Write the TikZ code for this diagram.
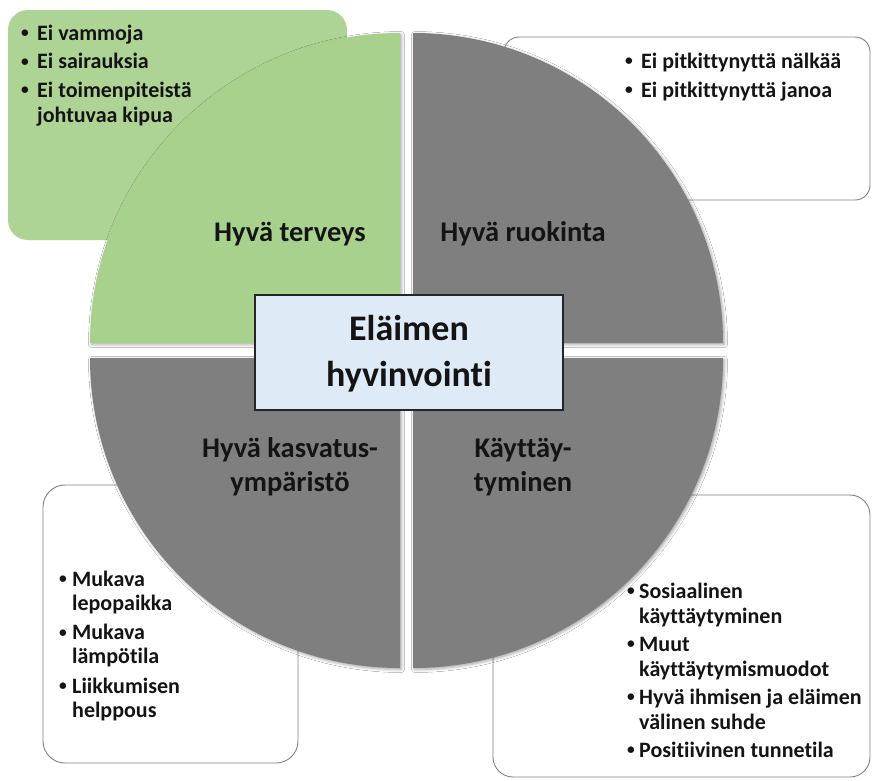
\documentclass[tikz,border=0pt]{standalone}
\usepackage{fontspec}
\usepackage{graphicx}
\setmainfont{Carlito}[Ligatures={NoCommon,NoRare,NoContextual},Contextuals=NoAlternate]
\usetikzlibrary{shadows.blur}
\definecolor{qgreen}{RGB}{169,209,142}
\definecolor{bgreen}{RGB}{174,212,149}
\definecolor{qgray}{RGB}{127,127,127}
\definecolor{cblue}{RGB}{222,235,247}
\definecolor{bline}{RGB}{130,130,130}
\definecolor{txt}{RGB}{20,20,20}
\newcommand\smallbul{\raisebox{0.1em}{\scalebox{0.7}{\textbullet}}}
\newcommand\bl[1]{\makebox[#1pt][l]{\smallbul}}
\newcommand\hi[1]{\hspace*{#1pt}}
\begin{document}
\begin{tikzpicture}[x=1pt,y=-1pt,
  qshadow/.style={blur shadow={shadow xshift=1.5pt, shadow yshift=-1.5pt, shadow blur radius=3pt, shadow opacity=35}},
  wbox/.style={draw=bline, line width=0.9pt, fill=white, rounded corners=#1},
  blist/.style={anchor=base west, inner sep=0pt, text=txt,
    font=\bfseries\fontsize{22}{25}\selectfont},
  qlabel/.style={anchor=base, inner sep=0pt, align=center, text=txt,
    font=\bfseries\fontsize{28.5}{33.5}\selectfont},
  ctext/.style={anchor=base, inner sep=0pt, align=center, text=txt,
    font=\bfseries\fontsize{36}{46}\selectfont}]
\useasboundingbox (0,0) rectangle (872,780);
\fill[white] (0,0) rectangle (872,780);
% boxes behind the circle
\fill[bgreen, rounded corners=20pt] (8,10) rectangle (347,240);
\draw[wbox=15pt] (504,37) rectangle (870,200);
\draw[wbox=22pt] (43,485) rectangle (298,763);
\draw[wbox=20pt] (493,495) rectangle (870,777);
% quadrants
\fill[qgreen, qshadow] (400,343) -- (90,343) arc[start angle=180, end angle=90, radius=310pt] -- cycle;
\fill[qgray, qshadow] (413,343) -- (413,33) arc[start angle=90, end angle=0, radius=310pt] -- cycle;
\fill[qgray, qshadow] (413,358) -- (723,358) arc[start angle=0, end angle=-90, radius=310pt] -- cycle;
\fill[qgray, qshadow] (400,358) -- (400,668) arc[start angle=-90, end angle=-180, radius=310pt] -- cycle;
% centre
\node[draw=black!85, line width=1.3pt, fill=cblue, minimum width=308pt, minimum height=115pt, inner sep=0pt] (cbox) at (409,352.5) {};
\node[ctext] (ctitle) at (409,386) {Eläimen\\hyvinvoint\kern0pt i};
% quadrant labels
\node[qlabel] (lterv) at (290,241) {Hyvä terveys};
\node[qlabel] (lruok) at (523,241) {Hyvä ruokinta};
\node[qlabel] (lkasv) at (290,491) {Hyvä kasvatus-\\ympäristö};
\node[qlabel] (lkayt) at (523,491) {Käyttäy-\\tyminen};
% bullet lists
\node[blist] (tterv) at (21,40) {\begin{tabular}[t]{@{}l@{}}
  \bl{16}Ei vammoja\\[3.5pt]
  \bl{16}Ei sairauksia\\[3.5pt]
  \bl{16}Ei toimenpiteistä\\
  \hi{16}johtuvaa kipua\end{tabular}};
\node[blist] (truok) at (625,68) {\begin{tabular}[t]{@{}l@{}}
  \bl{16}Ei pitkittynyttä nälkää\\[4pt]
  \bl{16}Ei pitkittynyttä janoa\end{tabular}};
\node[blist] (tkasv) at (59,586) {\begin{tabular}[t]{@{}l@{}}
  \bl{13}Mukava\\[-1pt]
  \hi{13}lepopaikka\\[4.5pt]
  \bl{13}Mukava\\[-1pt]
  \hi{13}lämpötila\\[4.5pt]
  \bl{13}Liikkumisen\\[-1pt]
  \hi{13}helppous\end{tabular}};
\node[blist] (tkayt) at (627,598) {\begin{tabular}[t]{@{}l@{}}
  \bl{12}Sosiaalinen\\
  \hi{12}käyttäytyminen\\[3pt]
  \bl{12}Muut\\
  \hi{12}käyttäytymismuodot\\[3pt]
  \bl{12}Hyvä ihmisen ja eläimen\\
  \hi{12}välinen suhde\\[3pt]
  \bl{12}Posit\kern0pt iivinen tunnet\kern0pt ila\end{tabular}};
\end{tikzpicture}
\end{document}
